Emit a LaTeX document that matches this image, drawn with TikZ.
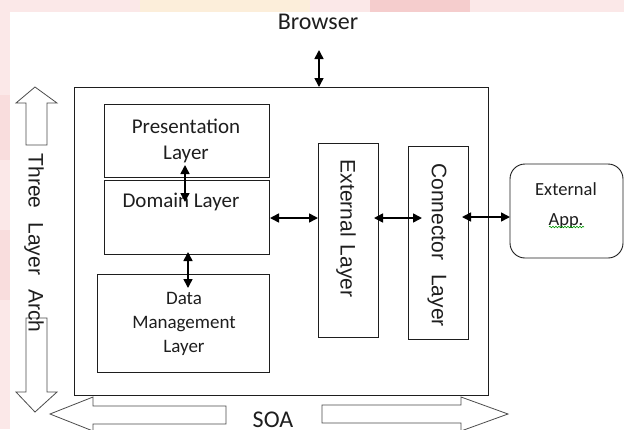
\documentclass[tikz,border=0pt]{standalone}
\usepackage{fontspec}
\setmainfont{Carlito}
\newfontfamily\arialf{Liberation Sans}
\usetikzlibrary{arrows.meta,decorations.pathmorphing}

\definecolor{wmpink}{RGB}{251,232,232}
\definecolor{wmred}{RGB}{245,205,205}
\definecolor{wmorange}{RGB}{252,238,218}
\definecolor{ink}{RGB}{30,30,30}

\begin{document}
\begin{tikzpicture}[x=1pt,y=-1pt,
  box/.style={draw=ink,line width=0.9pt,inner sep=0pt},
  dbl/.style={{Triangle[length=9pt,width=9pt]}-{Triangle[length=9pt,width=9pt]},line width=1.6pt,draw=black},
  blockarrow/.style={draw=black!70,line width=0.8pt,fill=white,line join=miter},
  lbl/.style={font=\fontsize{21}{26}\selectfont,text=ink,align=center,inner sep=0pt},
  big/.style={font=\fontsize{24}{28}\selectfont,text=ink,inner sep=0pt},
  vlbl/.style={font=\arialf\fontsize{21}{26}\selectfont,rotate=-90,inner sep=0pt,text=ink}]

\useasboundingbox (0,0) rectangle (624,429);

% faint watermark behind the page area
\fill[wmpink] (0,0) rectangle (624,429);
\fill[wmorange] (140,0) rectangle (310,12);
\fill[wmred] (370,0) rectangle (470,12);
\fill[wmred!40!wmpink] (0,95) rectangle (10,160);
\fill[wmred!40!wmpink] (0,230) rectangle (10,300);
\fill[white] (10,12) rectangle (624,429);

% block arrows (drawn first so labels sit on top)
\draw[blockarrow] (35,87) -- (57,103) -- (47,103) -- (47,145) -- (26,145) -- (26,103) -- (16,103) -- cycle;
\draw[blockarrow] (26,318) -- (47,318) -- (47,392) -- (57,392) -- (35,412) -- (16,392) -- (26,392) -- cycle;
\draw[blockarrow] (50,414) -- (93,397) -- (93,406) -- (226,406) -- (226,424) -- (93,424) -- (93,431) -- cycle;
\draw[blockarrow] (322,405) -- (461,405) -- (461,397) -- (508,414) -- (461,431) -- (461,423) -- (322,423) -- cycle;

% system boundary and layers
\node[box,minimum width=414,minimum height=308] (sys) at (281,241) {};
\node[box,minimum width=165,minimum height=73] (pres) at (186.5,140.5) {};
\node[box,minimum width=165,minimum height=74] (dom) at (186.5,217) {};
\node[box,minimum width=172,minimum height=98] (data) at (183,323) {};
\node[box,minimum width=60,minimum height=194] (ext) at (348,240) {};
\node[box,minimum width=60,minimum height=193] (conn) at (438,242.5) {};
\node[box,rounded corners=15pt,minimum width=113,minimum height=94] (app) at (566.5,211) {};

% labels
\node[big] (browser) at (318,22) {Browser};
\node[big,anchor=base] (soa) at (273,427) {SOA};
\node[lbl] (presT) at (186,141) {Presentation\\Layer};
\node[lbl] (domT) at (181,202) {Domain Layer};
\node[lbl,font=\fontsize{19}{24}\selectfont] (dataT) at (184,324) {Data\\Management\\Layer};
\node[lbl,font=\fontsize{18.5}{30}\selectfont] (appT) at (566,206) {External\\App.};
\draw[green!60!black,line width=0.6pt,decorate,decoration={snake,amplitude=0.8pt,segment length=3pt}] (549,227) -- (584,227);
\node[vlbl] (archT) at (34,243) {Three\hspace{14pt}Layer\hspace{14pt}Arch};
\node[vlbl] (extT) at (346,228.5) {External\hspace{8pt}Layer};
\node[vlbl] (connT) at (437,245) {Connector\hspace{14pt}Layer};

% connector end points
\coordinate (bTop) at (319,50);
\coordinate (bBot) at (319,87);
\coordinate (pdTop) at (185,165);
\coordinate (pdBot) at (185,202);
\coordinate (ddTop) at (188,252);
\coordinate (ddBot) at (188,288);
\coordinate (deL) at (270,218);
\coordinate (deR) at (318,218);
\coordinate (ecL) at (374,218);
\coordinate (ecR) at (422,218);
\coordinate (caL) at (462,217);
\coordinate (caR) at (510,217);

% connectors
\draw[dbl] (bTop) -- (bBot);
\draw[dbl] (pdTop) -- (pdBot);
\draw[dbl] (ddTop) -- (ddBot);
\draw[dbl] (deL) -- (deR);
\draw[dbl] (ecL) -- (ecR);
\draw[dbl] (caL) -- (caR);
\end{tikzpicture}
\end{document}
